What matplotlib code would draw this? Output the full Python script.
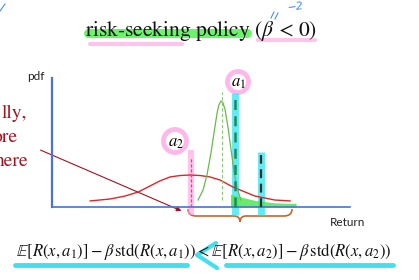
import matplotlib
matplotlib.use('Agg')
import matplotlib.pyplot as plt
from matplotlib.patches import Circle, FancyArrowPatch, PathPatch
from matplotlib.path import Path

plt.rcParams['mathtext.fontset'] = 'stix'

# ---- data (Return units on x, pdf units on y) ----
red_x = [1.28, 1.95, 2.45, 2.89, 3.29, 3.62, 3.96, 4.30, 4.63, 4.97, 5.30, 5.64,
         6.07, 6.48, 6.81, 7.05, 7.48, 7.99]
red_y = [0.047, 0.062, 0.085, 0.116, 0.163, 0.202, 0.233, 0.244, 0.248, 0.244,
         0.233, 0.209, 0.155, 0.116, 0.085, 0.074, 0.054, 0.047]
green_x = [4.90, 5.07, 5.20, 5.34, 5.44, 5.54, 5.60, 5.67, 5.74, 5.81, 5.91,
           6.01, 6.11, 6.21, 6.34]
green_y = [0.054, 0.132, 0.248, 0.426, 0.581, 0.729, 0.791, 0.822, 0.806,
           0.752, 0.612, 0.442, 0.271, 0.147, 0.054]
green_mean = 5.70
green_mean_top = 0.89
a1_x, a1_top = 6.14, 0.87
a2_x, a2_top = 4.66, 0.39
thr_x, thr_top = 7.01, 0.40
tail_start = 6.0

title = r"risk-seeking policy ($\beta$ < 0)"
equation = (r"$\mathbb{E}[R(x,a_1)] - \beta\,\mathrm{std}(R(x,a_1)) < "
            r"\mathbb{E}[R(x,a_2)] - \beta\,\mathrm{std}(R(x,a_2))$")
side_lines = ["lly,", "ore", "here"]

W, H = 419, 280
fig = plt.figure(figsize=(W / 100, H / 100), dpi=100)

# overlay in pixel coordinates for slide decorations
ov = fig.add_axes([0, 0, 1, 1], zorder=0)
ov.set_xlim(0, W)
ov.set_ylim(H, 0)
ov.axis('off')

ax = fig.add_axes([52 / W, 1 - 207 / H, 298 / W, 129 / H], zorder=1)
ax.set_facecolor('none')
ax.set_xlim(0, 10)
ax.set_ylim(0, 1)
for s in ['top', 'right']:
    ax.spines[s].set_visible(False)
ax.spines['left'].set_color('#4a72d0')
ax.spines['left'].set_linewidth(1.6)
ax.spines['bottom'].set_color('#4a72d0')
ax.spines['bottom'].set_linewidth(1.2)
ax.set_xticks([])
ax.set_yticks([])

# highlights
ax.vlines([a1_x], -0.06, a1_top + 0.01, color='#30e4f2', lw=5, alpha=0.75,
          clip_on=False, zorder=1)
ax.vlines([thr_x], -0.06, thr_top + 0.03, color='#30e4f2', lw=5, alpha=0.75,
          clip_on=False, zorder=1)
ax.vlines([a2_x], -0.06, a2_top + 0.05, color='#ff9be0', lw=4.5, alpha=0.6,
          clip_on=False, zorder=1)
tx = [x for x in red_x if x >= tail_start]
ty = [y for x, y in zip(red_x, red_y) if x >= tail_start]
ax.fill_between([a1_x - 0.15] + tx + [tx[-1] + 0.2], 0,
                [0.1] + [v * 0.6 for v in ty] + [0.03], color='#4de84d',
                alpha=0.85, zorder=1, lw=0)

# curves
ax.plot(red_x, red_y, color='#e0252a', lw=1.0, zorder=3)
ax.plot(green_x, green_y, color='#6cb84a', lw=0.9, zorder=3)
ax.vlines([green_mean], 0.054, green_mean_top, color='#8cc878', lw=0.8,
          linestyles=(0, (3, 2)), zorder=3)
ax.vlines([a1_x], 0, a1_top, color='#1e8a5a', lw=1.8,
          linestyles=(0, (4, 2.5)), zorder=4, clip_on=False)
ax.vlines([thr_x], 0, thr_top, color='#303030', lw=1.6,
          linestyles=(0, (4, 2.5)), zorder=4)
ax.vlines([a2_x], 0, a2_top, color='#e04090', lw=0.9,
          linestyles=(0, (2.5, 1.5)), zorder=4)

# title and highlights
ov.plot([88, 247], [33, 33], color='#5cf25c', lw=6.5, alpha=0.9,
        solid_capstyle='round', zorder=1)
ov.plot([90, 182], [44, 44], color='#ffc4ec', lw=3, solid_capstyle='round', zorder=1)
ov.plot([258, 315], [40, 40], color='#ffc4ec', lw=3, solid_capstyle='round', zorder=1)
ov.text(201, 31, title, family='STIXGeneral', fontsize=15.5, ha='center',
        va='center', color='#111111', zorder=3)
ov.text(296, 7, "\u22122", fontsize=8, color='#4a8fe0', ha='center',
        va='center', rotation=8, style='italic', zorder=3)
ov.plot([271, 274], [18, 12], color='#4a8fe0', lw=0.8, zorder=3)
ov.plot([275, 278], [19, 13], color='#4a8fe0', lw=0.8, zorder=3)
ov.plot([0, 5], [11, 4], color='#4a8fe0', lw=0.8, zorder=3)

# axis labels
ov.text(36, 76, "pdf", family='Lato', fontsize=8.5, ha='center', va='center',
        color='#222222')
ov.text(348, 222, "Return", family='Lato', fontsize=8.5, ha='center',
        va='center', color='#222222')

# action labels
ov.add_patch(Circle((238, 82), 10.5, fill=False, ec='#ff9be0', lw=3.5,
                    alpha=0.7, zorder=2))
ov.add_patch(Circle((175, 141), 11.5, fill=False, ec='#ff9be0', lw=3.5,
                    alpha=0.7, zorder=2))
ov.text(238, 82, r"$a_1$", fontsize=12, ha='center', va='center', zorder=3)
ov.text(176, 142, r"$a_2$", fontsize=12, ha='center', va='center', zorder=3)

# left red text
for i, t in enumerate(side_lines):
    ov.text([27, 17, 28][i], 113 + 24 * i, t, family='STIXGeneral',
            fontsize=14, color='#a3121e', ha='right', va='center')
ov.add_patch(FancyArrowPatch((38, 149), (184, 212), arrowstyle='-|>',
                             mutation_scale=7, color='#a3121e', lw=0.8,
                             zorder=3))

# brace
verts = [(188, 209), (188, 216), (196, 216), (234, 216), (240, 216),
         (240, 222), (240, 216), (246, 216), (284, 216), (292, 216),
         (292, 209)]
codes = [Path.MOVETO, Path.CURVE3, Path.CURVE3, Path.LINETO, Path.CURVE3,
         Path.CURVE3, Path.CURVE3, Path.CURVE3, Path.LINETO, Path.CURVE3,
         Path.CURVE3]
ov.add_patch(PathPatch(Path(verts, codes), fill=False, ec='#c8662a', lw=1.2,
                       zorder=3))

# equation
ov.plot([15, 187], [265, 265], color='#40e0f0', lw=3.5, solid_capstyle='round',
        zorder=1)
ov.plot([226, 393], [265, 265], color='#40e0f0', lw=3.5, solid_capstyle='round',
        zorder=1)
ov.plot([216, 197, 217], [243, 255, 268], color='#40e0f0', lw=3,
        solid_capstyle='round', zorder=1)
ov.text(204, 252, equation, fontsize=12, ha='center', va='center',
        color='#111111', zorder=3)

fig.savefig('out.png', dpi=100)
